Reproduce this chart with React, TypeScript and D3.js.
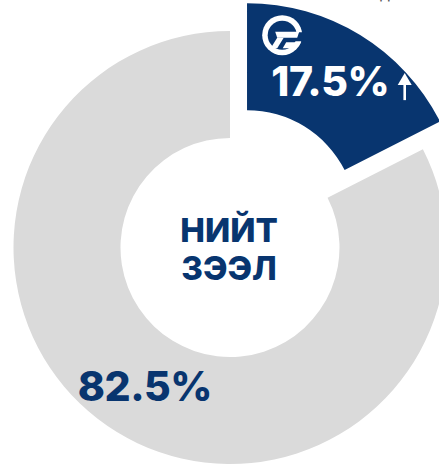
import * as d3 from 'd3';

const categories = ['Банк', 'Бусад'];
const shares = [17.5, 82.5];
const labels = ['17.5%', '82.5%'];
const centerLines = ['НИЙТ', 'ЗЭЭЛ'];

const W = 439;
const H = 466;
const cx = 230;
const cy = 247.5;
const outerR = 216.5;
const innerR = 109.5;
const explode = 32.6;
const navy = '#08356f';
const grey = '#dadada';
const font = 'Inter, "Open Sans", sans-serif';

export default function App() {
  const pie = d3.pie<number>().sort(null).startAngle(0).endAngle(2 * Math.PI);
  const arcs = pie(shares);
  const arc = d3.arc<d3.PieArcDatum<number>>().innerRadius(innerR).outerRadius(outerR);

  // only the first slice is pulled out
  const offsetOf = (d: d3.PieArcDatum<number>, i: number) => {
    if (i !== 0) return [0, 0];
    const mid = (d.startAngle + d.endAngle) / 2;
    return [Math.sin(mid) * explode, -Math.cos(mid) * explode];
  };

  const hi = arcs[0];
  const [hx, hy] = offsetOf(hi, 0);
  const [hcx, hcy] = arc.centroid(hi);
  const lx = cx + hx + hcx;
  const ly = cy + hy + hcy;
  const ax = lx + 72.5;

  return (
    <svg width={W} height={H} style={{ position: 'absolute', left: 0, top: 0 }}>
      <text x={380} y={-1} fontFamily={font} fontSize={16} fill="#555">д</text>
      <g transform={`translate(${cx},${cy})`}>
        {arcs.map((d, i) => {
          const [ox, oy] = offsetOf(d, i);
          return (
            <path key={categories[i]} d={arc(d) ?? ''} transform={`translate(${ox},${oy})`}
              fill={i === 0 ? navy : grey} />
          );
        })}
        {arcs.map((d, i) => {
          const [ox, oy] = offsetOf(d, i);
          const [x, y] = arc.centroid(d);
          return (
            <text key={'l' + i} x={x + ox - (i === 0 ? 2 : 0)} y={y + oy + 15}
              textAnchor="middle" fontFamily={font} fontWeight={800} fontSize={41}
              letterSpacing={-0.5} fill={i === 0 ? '#fff' : navy}>{labels[i]}</text>
          );
        })}
        {centerLines.map((t, i) => (
          <text key={t} x={-1} y={-5.5 + i * 38} textAnchor="middle" fontFamily={font}
            fontWeight={800} fontSize={33} fill={navy}>{t}</text>
        ))}
      </g>
      {/* up arrow */}
      <line x1={ax} y1={ly + 19.4} x2={ax} y2={ly - 2} stroke="#fff" strokeWidth={2.6} />
      <path d={`M ${ax - 7} ${ly + 4.4} L ${ax} ${ly - 7.6} L ${ax + 7} ${ly + 4.4} Z`} fill="#fff" />
      {/* logo */}
      <g transform={`translate(${lx - 50},${ly - 45.5})`}>
        <circle r={20} fill="#fff" />
        <circle r={14.5} fill={navy} />
        <path d="M 9 -3 L 21 -3 L 21 6 L 7 6 Z" fill={navy} />
        <path d="M -7 -3.5 L 17 -3.5 L 15 2.5 L -5 2.5 Z" fill="#fff" />
        <path d="M -5 2.5 L 1.5 2.5 L -5 13 L -11.5 13 Z" fill="#fff" />
        <path d="M 4 7 L 19 7 L 14 13 L 0.5 13 Z" fill="#fff" />
      </g>
    </svg>
  );
}
